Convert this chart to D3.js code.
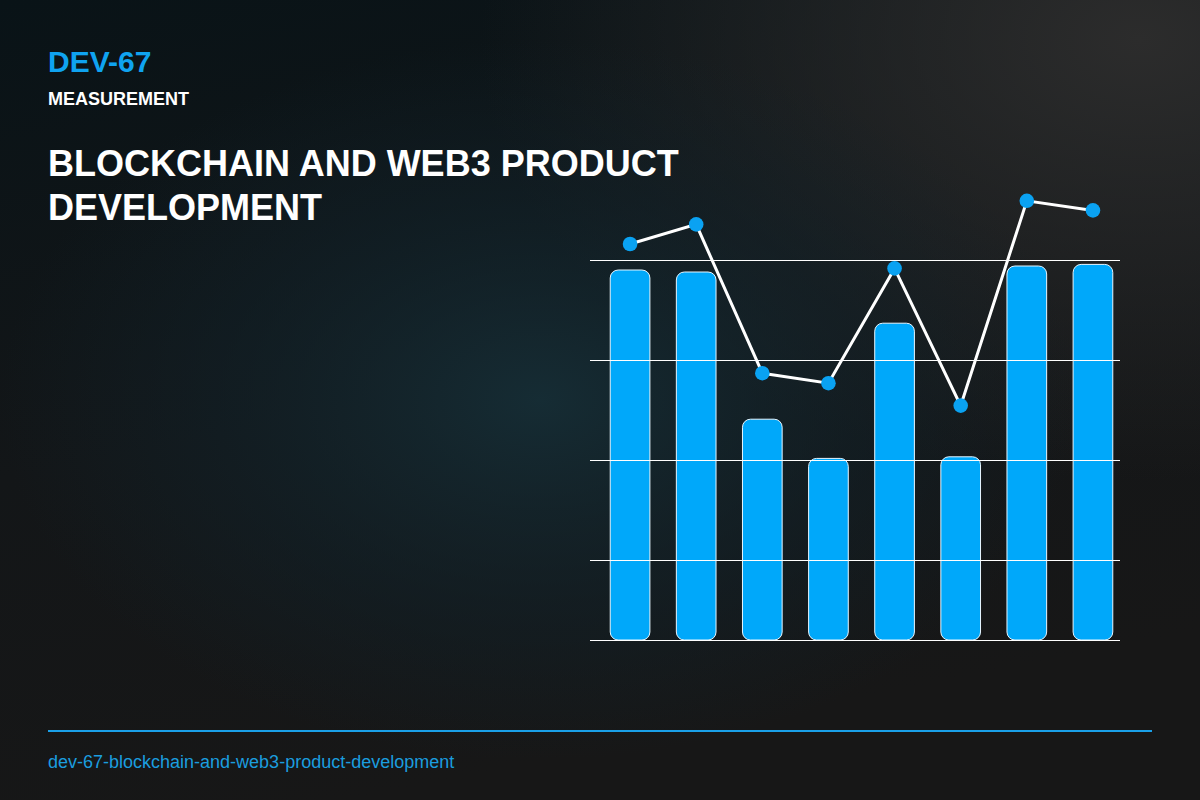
<!DOCTYPE html>
<html>
<head>
<meta charset="utf-8">
<script src="https://cdn.jsdelivr.net/npm/d3@7"></script>
<style>
  html, body { margin: 0; padding: 0; background: #161616; }
  svg { display: block; }
</style>
</head>
<body>
<div id="chart"></div>
<script>
// data
const categories = ["A", "B", "C", "D", "E", "F", "G", "H"];
const barValues  = [97.5, 97.0, 60.2, 50.4, 84.2, 50.8, 98.5, 98.9];
const lineValues = [104.0, 108.9, 71.7, 69.2, 97.9, 63.6, 114.8, 112.4];
const gridTicks  = [25, 50, 75, 100];

const W = 1200, H = 800;
const blue = "#00a8fa";

const svg = d3.select("#chart").append("svg")
    .attr("width", W).attr("height", H);

const defs = svg.append("defs");

// background layers
const base = defs.append("linearGradient").attr("id", "bgBase")
    .attr("x1", 0).attr("y1", 0).attr("x2", 0.3).attr("y2", 1);
base.append("stop").attr("offset", "0%").attr("stop-color", "#091317");
base.append("stop").attr("offset", "55%").attr("stop-color", "#131618");
base.append("stop").attr("offset", "100%").attr("stop-color", "#171717");

const glow = defs.append("radialGradient").attr("id", "bgGlow")
    .attr("cx", 0.45).attr("cy", 0.5).attr("r", 0.45);
glow.append("stop").attr("offset", "0%").attr("stop-color", "#163039").attr("stop-opacity", 0.85);
glow.append("stop").attr("offset", "60%").attr("stop-color", "#11222a").attr("stop-opacity", 0.5);
glow.append("stop").attr("offset", "100%").attr("stop-color", "#11222a").attr("stop-opacity", 0);

const grey = defs.append("radialGradient").attr("id", "bgGrey")
    .attr("cx", 0.95).attr("cy", 0.05).attr("r", 0.55);
grey.append("stop").attr("offset", "0%").attr("stop-color", "#2c2c2c").attr("stop-opacity", 1);
grey.append("stop").attr("offset", "100%").attr("stop-color", "#2c2c2c").attr("stop-opacity", 0);

svg.append("rect").attr("width", W).attr("height", H).attr("fill", "url(#bgBase)");
svg.append("rect").attr("width", W).attr("height", H).attr("fill", "url(#bgGrey)");
svg.append("rect").attr("width", W).attr("height", H).attr("fill", "url(#bgGlow)");

// header
const font = "'Liberation Sans', Arial, Helvetica, sans-serif";
svg.append("text").attr("x", 48).attr("y", 72)
    .attr("font-family", font).attr("font-weight", "bold").attr("font-size", 30)
    .attr("fill", "#0fa3f0").text("DEV-67");
svg.append("text").attr("x", 48).attr("y", 105)
    .attr("font-family", font).attr("font-weight", "bold").attr("font-size", 18)
    .attr("fill", "#ffffff").text("MEASUREMENT");

const title = svg.append("text")
    .attr("font-family", font).attr("font-weight", "bold").attr("font-size", 36)
    .attr("fill", "#ffffff");
title.append("tspan").attr("x", 48).attr("y", 176).text("BLOCKCHAIN AND WEB3 PRODUCT");
title.append("tspan").attr("x", 48).attr("y", 220).text("DEVELOPMENT");

// chart
const x = d3.scaleBand().domain(categories)
    .range([597, 1126]).paddingInner(0.4).paddingOuter(0.2);
const y = d3.scaleLinear().domain([5, 100]).range([640, 260]);

const g = svg.append("g");

g.selectAll("rect.bar").data(categories).join("rect")
    .attr("class", "bar")
    .attr("x", d => x(d))
    .attr("y", (d, i) => y(barValues[i]))
    .attr("width", x.bandwidth())
    .attr("height", (d, i) => y(5) - y(barValues[i]))
    .attr("rx", 8).attr("ry", 8)
    .attr("fill", blue)
    .attr("stroke", "#e8f6ff").attr("stroke-width", 1);

// grid lines over the bars
g.append("g").selectAll("line").data(gridTicks).join("line")
    .attr("x1", 590).attr("x2", 1120)
    .attr("y1", d => Math.round(y(d)) + 0.5).attr("y2", d => Math.round(y(d)) + 0.5)
    .attr("stroke", "#ffffff").attr("stroke-width", 1);
g.append("line")
    .attr("x1", 590).attr("x2", 1120)
    .attr("y1", y(5) + 0.5).attr("y2", y(5) + 0.5)
    .attr("stroke", "#ffffff").attr("stroke-width", 1);

const line = d3.line()
    .x((d, i) => x(categories[i]) + x.bandwidth() / 2)
    .y(d => y(d));

g.append("path").datum(lineValues)
    .attr("d", line)
    .attr("fill", "none")
    .attr("stroke", "#ffffff").attr("stroke-width", 3);

g.selectAll("circle").data(lineValues).join("circle")
    .attr("cx", (d, i) => x(categories[i]) + x.bandwidth() / 2)
    .attr("cy", d => y(d))
    .attr("r", 7.3)
    .attr("fill", "#0aa2f2");

// footer
svg.append("line").attr("x1", 48).attr("x2", 1152).attr("y1", 731).attr("y2", 731)
    .attr("stroke", "#1aa0e8").attr("stroke-width", 2);
svg.append("text").attr("x", 48).attr("y", 768)
    .attr("font-family", font).attr("font-size", 18)
    .attr("fill", "#1b9ddf").text("dev-67-blockchain-and-web3-product-development");
</script>
</body>
</html>
